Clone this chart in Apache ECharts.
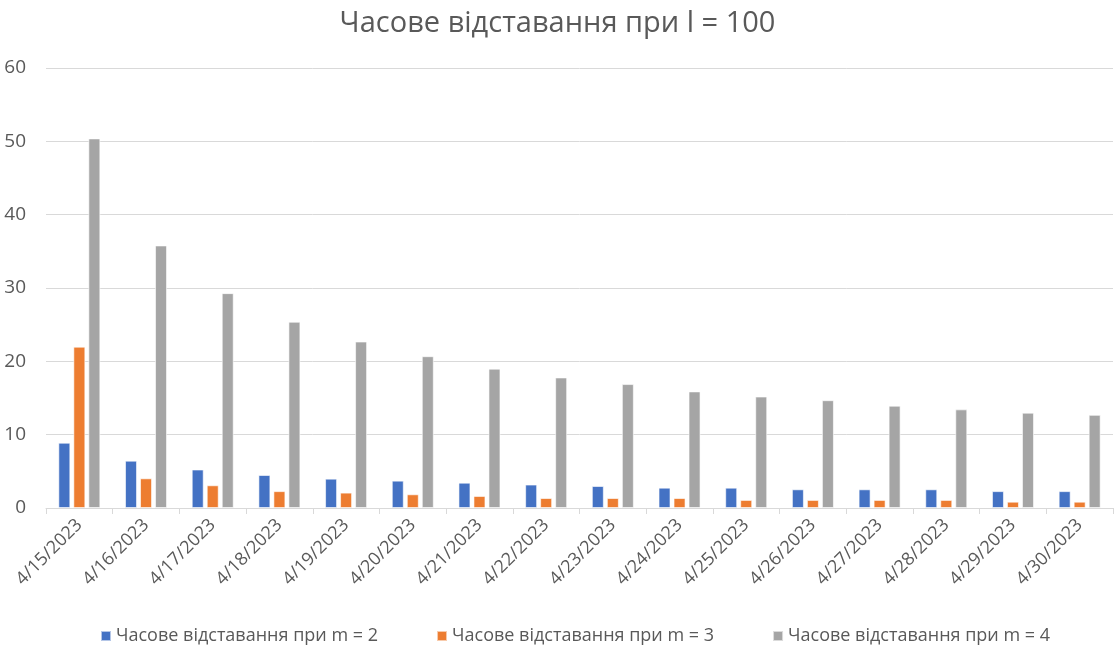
<!DOCTYPE html>
<html>
<head>
<meta charset="utf-8">
<script src="https://cdn.jsdelivr.net/npm/echarts@6/dist/echarts.min.js"></script>
<style>
  html, body { margin: 0; padding: 0; background: #ffffff; }
  #chart { width: 1115px; height: 653px; }
</style>
</head>
<body>
<div id="chart"></div>
<script>
// Dates on the category axis
const categories = ['4/15/2023', '4/16/2023', '4/17/2023', '4/18/2023', '4/19/2023', '4/20/2023',
  '4/21/2023', '4/22/2023', '4/23/2023', '4/24/2023', '4/25/2023', '4/26/2023',
  '4/27/2023', '4/28/2023', '4/29/2023', '4/30/2023'];

const seriesNames = ['Часове відставання при m = 2', 'Часове відставання при m = 3', 'Часове відставання при m = 4'];

// Time lag per day for m = 2, 3, 4
const lagM2 = [8.9, 6.45, 5.25, 4.5, 4.0, 3.73, 3.45, 3.2, 3.0, 2.77, 2.77, 2.55, 2.55, 2.55, 2.3, 2.3];
const lagM3 = [22.0, 4.05, 3.1, 2.3, 2.1, 1.87, 1.64, 1.36, 1.36, 1.36, 1.1, 1.1, 1.1, 1.1, 0.86, 0.86];
const lagM4 = [50.4, 35.8, 29.3, 25.4, 22.7, 20.7, 19.0, 17.8, 16.9, 15.9, 15.2, 14.7, 13.95, 13.45, 13.0, 12.7];

const yTicks = { min: 0, max: 60, interval: 10 };

const colors = ['#4472C4', '#ED7D31', '#A5A5A5'];
const textColor = '#595959';
const fontFamily = '"Open Sans", "Noto Sans", sans-serif';

const chart = echarts.init(document.getElementById('chart'), null, { renderer: 'canvas' });

const values = [lagM2, lagM3, lagM4];

chart.setOption({
  animation: false,
  color: colors,
  title: {
    text: 'Часове відставання при l = 100',
    left: 'center',
    top: 4,
    textStyle: { fontFamily: fontFamily, fontSize: 29, fontWeight: 'normal', color: textColor }
  },
  legend: {
    bottom: 3,
    left: 95,
    itemWidth: 10,
    itemHeight: 10,
    itemGap: 58,
    icon: 'rect',
    textStyle: { fontFamily: fontFamily, fontSize: 18, color: textColor },
    data: seriesNames
  },
  grid: { left: 46, right: 2, top: 68, bottom: 145 },
  xAxis: {
    type: 'category',
    data: categories,
    axisLine: { lineStyle: { color: '#d9d9d9', width: 1 } },
    axisTick: { show: true, length: 6, lineStyle: { color: '#d9d9d9' } },
    axisLabel: { rotate: 45, fontFamily: fontFamily, fontSize: 18, color: textColor, margin: 14, interval: 0 }
  },
  yAxis: {
    type: 'value',
    min: yTicks.min,
    max: yTicks.max,
    interval: yTicks.interval,
    axisLine: { show: false },
    axisTick: { show: false },
    splitLine: { lineStyle: { color: '#d9d9d9', width: 1 } },
    axisLabel: { fontFamily: fontFamily, fontSize: 19, color: textColor, margin: 20 }
  },
  series: seriesNames.map((name, i) => ({
    name: name,
    type: 'bar',
    data: values[i],
    barGap: '25%',
    barCategoryGap: '37%',
    itemStyle: { color: colors[i], borderColor: 'rgba(255,255,255,0.6)', borderWidth: 1 }
  }))
});
</script>
</body>
</html>
